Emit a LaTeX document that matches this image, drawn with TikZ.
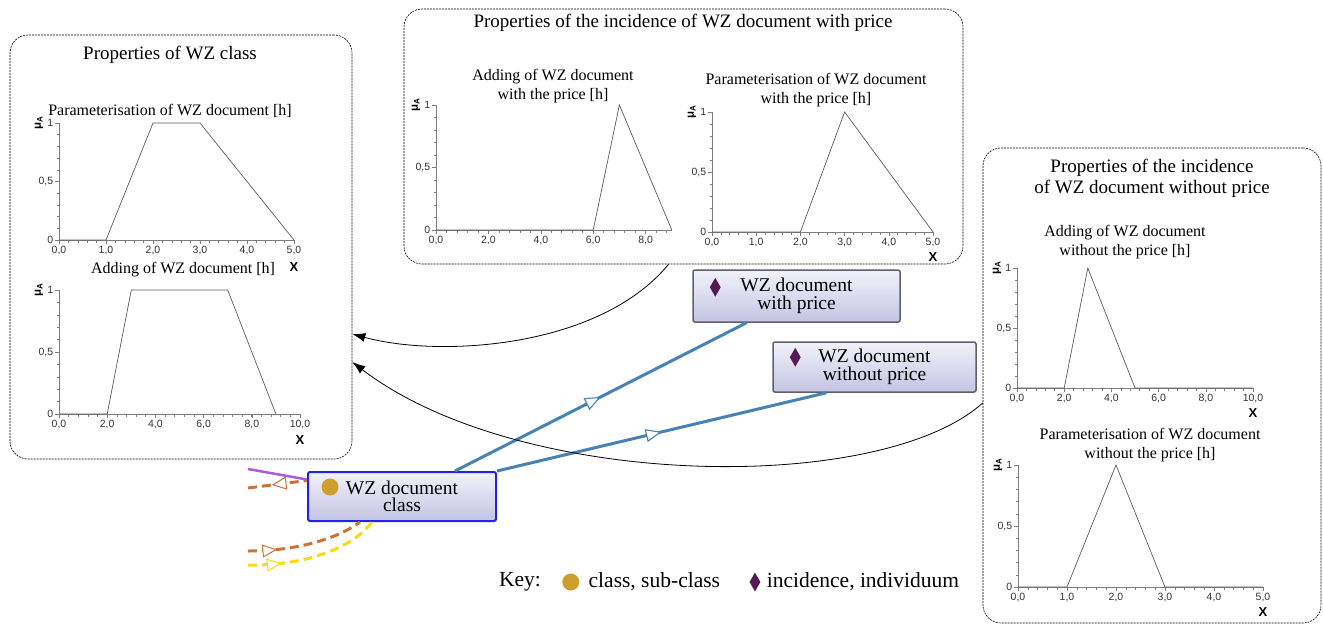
\documentclass[tikz,border=0pt]{standalone}
\usepackage{fontspec}
\setmainfont{Liberation Serif}
\newfontfamily\ticksfont{Liberation Sans}
\usetikzlibrary{positioning,shapes.geometric,arrows.meta,decorations.markings}

\definecolor{axisgray}{RGB}{125,125,125}
\definecolor{curvegray}{RGB}{90,90,90}
\definecolor{steel}{RGB}{70,130,180}
\definecolor{lavtop}{RGB}{242,242,250}
\definecolor{lavbot}{RGB}{196,196,228}
\definecolor{incborder}{RGB}{95,95,110}
\definecolor{clsborder}{RGB}{35,35,225}
\definecolor{diapurple}{RGB}{85,25,85}
\definecolor{ballgold}{RGB}{205,160,45}
\definecolor{linkpurple}{RGB}{175,90,215}
\definecolor{linkbrown}{RGB}{205,115,55}
\definecolor{linkyellow}{RGB}{245,220,20}

% axes of one membership chart: x end, label step, last label
\newcommand{\mfaxes}[3]{%
  \draw[mfaxis] (0,1) -- (0,0) -- (#1,0);
  \foreach \tk in {0.1,0.2,...,0.95} \draw[mfaxis] (0,\tk) -- ++(-2.5pt,0);
  \foreach \tk/\lb in {0/0,0.5/{0,5},1/1} \draw[mfaxis] (0,\tk) -- ++(-4pt,0) node[ticklbl,left] {\lb};
  \pgfmathsetmacro{\mfminor}{#2/5}
  \foreach \tk in {0,\mfminor,...,#1} \draw[mfaxis] (\tk,0) -- ++(0,-2.5pt);
  \foreach \tk in {0,#2,...,#3} \draw[mfaxis] (\tk,0) -- ++(0,-4pt) node[ticklbl,below]
    {\pgfmathprintnumber[fixed,fixed zerofill,precision=1,use comma,assume math mode=true]{\tk}};
  \node[mulbl] at (0,1) [xshift=-20pt,rotate=90] {μ\textsubscript{A}};
}

\begin{document}
\begin{tikzpicture}[x=1pt,y=-1pt,
    panel/.style={draw, dash pattern=on 2pt off 1pt, line width=0.6pt, rounded corners=18pt, inner sep=0pt},
    ttl/.style={font=\fontsize{19}{21}\selectfont, align=center},
    subttl/.style={font=\fontsize{16}{19}\selectfont, align=center},
    mfaxis/.style={axisgray, line width=0.6pt},
    mfcurve/.style={curvegray, line width=0.7pt},
    ticklbl/.style={font=\ticksfont\fontsize{10.5}{11}\selectfont, text=black!80, inner sep=1.5pt},
    mulbl/.style={font=\ticksfont\bfseries\fontsize{11.5}{12}\selectfont},
    xlbl/.style={font=\ticksfont\bfseries\fontsize{13}{13}\selectfont},
    incnode/.style={draw=incborder, line width=1.5pt, rounded corners=2pt, top color=lavtop, bottom color=lavbot,
      font=\fontsize{19.5}{17.5}\selectfont, align=center, inner sep=0pt},
    clsnode/.style={incnode, draw=clsborder, line width=2pt},
    diamark/.style={diamond, fill=diapurple, inner sep=0pt, minimum width=11pt, minimum height=19pt},
    ballmark/.style={circle, fill=ballgold, inner sep=0pt, minimum size=17pt},
    keytext/.style={font=\fontsize{21.5}{24}\selectfont, inner sep=1pt},
    bluelink/.style={steel, line width=3pt, postaction={decorate, decoration={markings,
      mark=at position 0.5 with {\arrow[line width=1.1pt]{Triangle[length=16pt,width=13pt,fill=white]}}}}},
    dashlink/.style={#1, line width=3pt, dash pattern=on 9pt off 5pt},
    propslink/.style={-{Latex[length=13pt,width=9pt]}, line width=0.8pt}]

  \useasboundingbox (0,0) rectangle (1323,625);

  % panels
  \node[panel, minimum width=342pt, minimum height=424pt] (clsprops) at (181,247) {};
  \node[panel, minimum width=559pt, minimum height=255pt] (topprops) at (683.5,136.5) {};
  \node[panel, minimum width=338pt, minimum height=475pt] (rightprops) at (1152,385.5) {};

  \node[ttl] (clsttl) at (170,55) {Properties of WZ class};
  \node[ttl] (topttl) at (683,23) {Properties of the incidence of WZ document with price};
  \node[ttl] (rightttl) at (1152,178) {Properties of the incidence\\of WZ document without price};

  % class charts
  \node[subttl] (paramcls) at (170,111) {Parameterisation of WZ document [h]};
  \begin{scope}[shift={(59,240)}, x=47pt, y=117pt]
    \mfaxes{5}{1}{5}
    \node[xlbl] (xa) at (5,0) [yshift=-27pt] {X};
    \draw[mfcurve] (0,0) -- (1,0) -- (2,1) -- (3,1) -- (5,0);
  \end{scope}
  \node[subttl] (addcls) at (183,270) {Adding of WZ document [h]};
  \begin{scope}[shift={(59,414)}, x=24.1pt, y=124pt]
    \mfaxes{10}{2}{10}
    \node[xlbl] (xb) at (10,0) [yshift=-26pt] {X};
    \draw[mfcurve] (0,0) -- (2,0) -- (3,1) -- (7,1) -- (9,0);
  \end{scope}

  % with price charts
  \node[subttl] (addwp) at (553,86.5) {Adding of WZ document\\with the price [h]};
  \begin{scope}[shift={(436,230)}, x=26.2pt, y=125pt]
    \mfaxes{9}{2}{8}
    \draw[mfcurve] (0,0) -- (6,0) -- (7,1) -- (9,0);
  \end{scope}
  \node[subttl] (paramwp) at (816,90) {Parameterisation of WZ document\\with the price [h]};
  \begin{scope}[shift={(712,232)}, x=44.2pt, y=120pt]
    \mfaxes{5}{1}{5}
    \node[xlbl] (xc) at (5,0) [yshift=-25pt] {X};
    \draw[mfcurve] (0,0) -- (2,0) -- (3,1) -- (5,0);
  \end{scope}

  % without price charts
  \node[subttl] (addnp) at (1125,242.5) {Adding of WZ document\\without the price [h]};
  \begin{scope}[shift={(1017,388)}, x=23.6pt, y=120pt]
    \mfaxes{10}{2}{10}
    \node[xlbl] (xd) at (10,0) [yshift=-25pt] {X};
    \draw[mfcurve] (0,0) -- (2,0) -- (3,1) -- (5,0) -- (10,0);
  \end{scope}
  \node[subttl] (paramnp) at (1150,445) {Parameterisation of WZ document\\without the price [h]};
  \begin{scope}[shift={(1018,587)}, x=49pt, y=122pt]
    \mfaxes{5}{1}{5}
    \node[xlbl] (xe) at (5,0) [yshift=-25pt] {X};
    \draw[mfcurve] (0,0) -- (1,0) -- (2,1) -- (3,0) -- (5,0);
  \end{scope}

  % ontology nodes
  \node[incnode, minimum width=207pt, minimum height=52pt] (wprice) at (796.5,296) {WZ document\\with price};
  \node[incnode, minimum width=203pt, minimum height=50pt] (wnoprice) at (874.5,367) {WZ document\\without price};
  \node[clsnode, minimum width=188pt, minimum height=49pt] (wclass) at (402,496.5) {WZ document\\class};
  \node[diamark] (wpricedia) at ([xshift=23pt,yshift=-18pt]wprice.north west) {};
  \node[diamark] (wnopricedia) at ([xshift=23pt,yshift=-16pt]wnoprice.north west) {};
  \node[ballmark] (wclassball) at ([xshift=23pt,yshift=-16pt]wclass.north west) {};

  \draw[bluelink] ([xshift=53pt]wclass.north) -- ([xshift=-50pt]wprice.south);
  \draw[bluelink] (wclass.north east) -- ([xshift=-48pt]wnoprice.south);

  % links leaving the picture
  \coordinate (purpend) at (248,469);
  \coordinate (brownend) at (248,488);
  \coordinate (brownend2) at (248,551);
  \coordinate (yellowend) at (248,565);
  \draw[linkpurple, line width=2.5pt] (purpend) -- ([yshift=17pt]wclass.west);
  \draw[dashlink=linkbrown, postaction={decorate, decoration={markings,
      mark=at position 0.4 with {\arrowreversed[line width=1pt, solid]{Triangle[length=15pt,width=13pt,fill=white]}}}}]
    (brownend) -- ([yshift=16pt]wclass.west);
  \draw[dashlink=linkbrown, postaction={decorate, decoration={markings,
      mark=at position 0.25 with {\arrow[line width=1pt, solid]{Triangle[length=15pt,width=13pt,fill=white]}}}}]
    (brownend2) .. controls (300,551) and (340,537) .. ([xshift=-42pt]wclass.south);
  \draw[dashlink=linkyellow, postaction={decorate, decoration={markings,
      mark=at position 0.25 with {\arrow[line width=1pt, solid]{Triangle[length=15pt,width=13pt,fill=white]}}}}]
    (yellowend) .. controls (315,566) and (358,542) .. ([xshift=-30pt]wclass.south);

  % panels to the class panel
  \draw[propslink] ([xshift=-15pt]topprops.south) .. controls (600,348) and (440,358) .. ([yshift=-87pt]clsprops.east);
  \draw[propslink] ([yshift=-17.5pt]rightprops.west) .. controls (880,495) and (520,490) .. ([yshift=-115pt]clsprops.east);

  % key
  \node[keytext] (keylbl) at (520,582) {Key:};
  \node[ballmark, right=20pt of keylbl] (keyball) {};
  \node[keytext, right=8pt of keyball] (keycls) {class, sub-class};
  \node[diamark, right=28pt of keycls] (keydia) {};
  \node[keytext, right=5pt of keydia] (keyinc) {incidence, individuum};
\end{tikzpicture}
\end{document}
